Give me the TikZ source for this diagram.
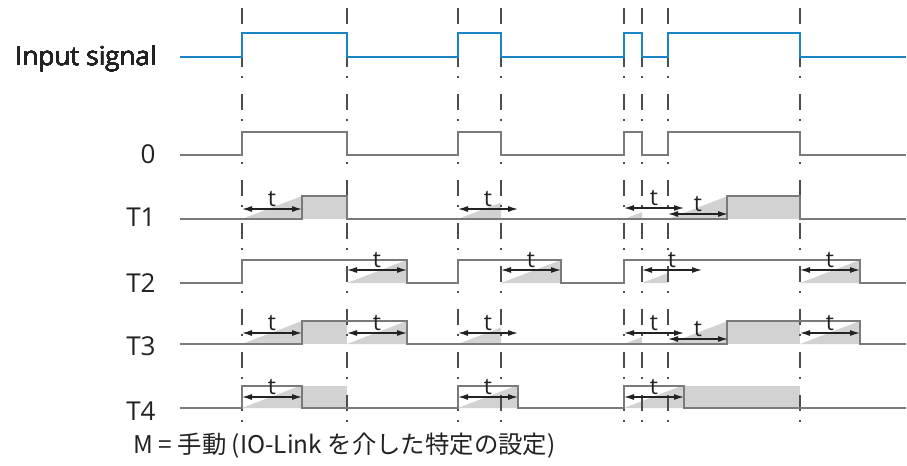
\documentclass[tikz,border=0pt]{standalone}
\usepackage{fontspec}
\setmainfont{Open Sans}
\newfontfamily\cjk{Noto Sans CJK JP}
\usepackage{xcolor}
\definecolor{SigBlue}{HTML}{1B84C6}
\definecolor{SigGray}{HTML}{7A7A7A}
\definecolor{GuideGray}{HTML}{4D4D4D}
\definecolor{FillGray}{HTML}{D2D2D2}
\definecolor{NearBlack}{HTML}{222222}
\usepackage{tikz}
\usetikzlibrary{arrows.meta}

% timer ramp: x0, x1, low level
\newcommand\tramp[3]{%
  \fill[FillGray] (#1,#3) -- (#2,{#3-23*(#2-#1)/60}) -- (#2,#3) -- cycle;}
% timer span t: name, x0, y
\newcommand\tspan[3]{%
  \coordinate (#1a) at (#2,#3);
  \coordinate (#1b) at ({#2+60},#3);
  \draw[tarrow] (#1a) -- (#1b);
  \node[tlabel] (#1) at ({#2+30},{#3-10}) {t};}

\begin{document}
\begin{tikzpicture}[x=0.5pt,y=-0.5pt,font=\fontsize{13}{15}\selectfont,
  sig/.style={draw=SigGray,line width=1.1pt},
  insig/.style={draw=SigBlue,line width=1.2pt},
  guide/.style={draw=GuideGray,line width=0.7pt,dash pattern=on 8pt off 4.5pt on 1pt off 8pt},
  tarrow/.style={draw=NearBlack,line width=0.6pt,{Latex[length=5pt,width=3pt]}-{Latex[length=5pt,width=3pt]}},
  tlabel/.style={font=\fontsize{11.5}{12}\selectfont,inner sep=0pt,text=NearBlack},
  rowlabel/.style={anchor=base east,text=NearBlack,inner sep=0pt}]
\useasboundingbox (0,0) rectangle (907,466);
% gray areas: ramps and held outputs
\foreach \a/\b/\lo in {242/302/219, 458/501/219, 624/642/219, 668/727/219,
  347/407/283, 501/561/283, 642/668/283, 800/860/283,
  242/302/344, 347/407/344, 458/501/344, 624/642/344, 668/727/344, 800/860/344,
  242/302/408, 458/518/408, 624/684/408}
  \tramp{\a}{\b}{\lo};
\foreach \a/\b/\hi/\lo in {302/347/196/219, 727/800/196/219,
  302/347/321/344, 727/800/321/344, 302/347/386/408, 684/800/386/408}
  \fill[FillGray] (\a,\hi) rectangle (\b,\lo);
% edge guides
\foreach \x in {242,347,458,501,624,642,668,800}
  \draw[guide] (\x,8) -- (\x,425);
% signals
\draw[insig] (180,57) -| (242,33) -| (347,57) -| (458,33) -| (501,57) -| (624,33) -| (642,57) -| (668,33) -| (800,57) -- (906,57);
\draw[sig] (180,155) -| (242,132) -| (347,155) -| (458,132) -| (501,155) -| (624,132) -| (642,155) -| (668,132) -| (800,155) -- (906,155);
\draw[sig] (180,219) -| (302,196) -| (347,219) -| (727,196) -| (800,219) -- (906,219);
\draw[sig] (180,283) -| (242,260) -| (407,283) -| (458,260) -| (561,283) -| (624,260) -| (860,283) -- (906,283);
\draw[sig] (180,344) -| (302,321) -| (407,344) -| (727,321) -| (860,344) -- (906,344);
\draw[sig] (180,408) -| (242,386) -| (302,408) -| (458,386) -| (518,408) -| (624,386) -| (684,408) -- (906,408);
% timer spans
\foreach \x/\y [count=\i] in {242/209, 458/209, 624/208, 668/214,
  347/270, 501/270, 642/270, 800/270,
  242/333, 347/333, 458/333, 624/333, 668/339, 800/333,
  242/397, 458/397, 624/397}
  \tspan{t\i}{\x}{\y}
% row labels
\node[rowlabel] (labin) at (157,65) {Input signal};
\foreach \lbl/\yb in {0/163, T1/227, T2/292, T3/355, T4/420}
  \node[rowlabel] (lab\lbl) at (156,\yb) {\lbl};
\node[anchor=base west,inner sep=0pt,text=NearBlack,font=\cjk\fontsize{12.2}{14}\selectfont]
  (note) at (133,453) {M = 手動 (IO-Link を介した特定の設定)};
\end{tikzpicture}
\end{document}
